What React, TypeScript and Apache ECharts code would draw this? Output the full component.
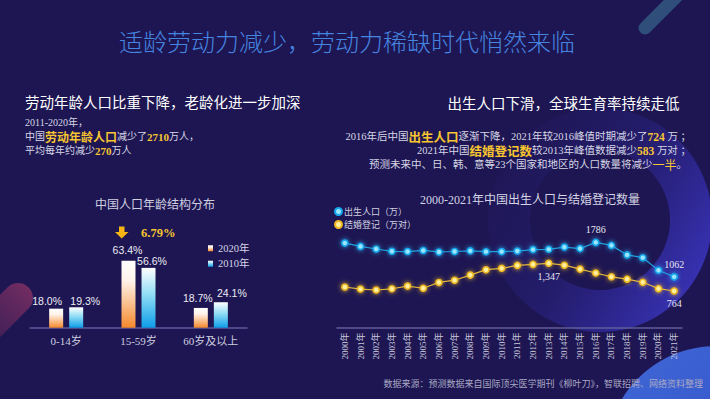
import React, { useEffect, useRef } from "react";
import * as echarts from "echarts";

const ageCategories = ["0-14岁", "15-59岁", "60岁及以上"];
const share2020 = [18.0, 63.4, 18.7];
const share2010 = [19.3, 56.6, 24.1];

const years = [
  "2000年", "2001年", "2002年", "2003年", "2004年", "2005年", "2006年", "2007年",
  "2008年", "2009年", "2010年", "2011年", "2012年", "2013年", "2014年", "2015年",
  "2016年", "2017年", "2018年", "2019年", "2020年", "2021年",
];
const births = [
  1771, 1702, 1647, 1599, 1593, 1617, 1585, 1595, 1608, 1591, 1592, 1604, 1635, 1640,
  1687, 1655, 1786, 1723, 1523, 1465, 1200, 1062,
];
const marriages = [
  848.5, 805, 786, 811.4, 867.2, 823.1, 945, 991.4, 1098.3, 1212.4, 1241, 1302.4, 1323.6,
  1346.9, 1306.7, 1224.7, 1142.8, 1063.1, 1013.9, 947.1, 814.3, 764.3,
];
const birthLabelIdx = [16, 21];
const marriageLabelIdx = [13, 21];

// label nudges (layout, not data)
const off2020 = [[-9, 3], [-1, 0], [-3, 0.5]];
const off2010 = [[9, 4.5], [3.5, 3.5], [11, 1.5]];

const SERIF = "'Liberation Serif', 'Noto Sans CJK SC', serif";
const SANS = "'Noto Sans CJK SC', 'Noto Sans', sans-serif";
const YEL = "#f7c531";

export default function App() {
  const ref = useRef<HTMLDivElement>(null);
  useEffect(() => {
    if (!ref.current) return;
    const chart = echarts.init(ref.current, undefined, { renderer: "svg" });
    const lg = (stops: [number, string][], x = 0, y = 0, x2 = 0, y2 = 1) =>
      new echarts.graphic.LinearGradient(x, y, x2, y2, stops.map(([offset, color]) => ({ offset, color })));

    const mkRich = (ns: number) => ({
      n: { fill: "#d6d6e6", color: "#d6d6e6", fontSize: ns, fontFamily: SERIF, verticalAlign: "middle" },
      h: { fill: YEL, color: YEL, fontSize: ns + 2, fontWeight: "bold", fontFamily: SANS, verticalAlign: "middle" },
      b: { fill: YEL, color: YEL, fontSize: ns + 1, fontWeight: "bold", fontFamily: SERIF, verticalAlign: "middle" },
      y: { fill: YEL, color: YEL, fontSize: ns + 1.5, fontFamily: SANS, verticalAlign: "middle" },
    });
    const rt = (text: string, x: number, y: number, align: string, ns = 10) => ({
      type: "text",
      x,
      y,
      z: 20,
      style: { text, rich: mkRich(ns), align, verticalAlign: "middle", fill: "#d6d6e6", fontSize: ns, fontFamily: SERIF },
    });
    const plain = (text: string, x: number, y: number, align: string, fontSize: number, fill: string, fontFamily = SANS, fontWeight: any = "normal") => ({
      type: "text",
      x,
      y,
      z: 20,
      style: { text, align, verticalAlign: "middle", fontSize, fill, fontFamily, fontWeight },
    });

    const barLabel = {
      show: true,
      position: "top",
      formatter: (p: any) => Number(p.value).toFixed(1) + "%",
      color: "#ececf4",
      fontSize: 10.5,
      fontFamily: "'Liberation Sans', Arial, sans-serif",
    };

    const option: any = {
      animation: false,
      backgroundColor: "#1e1652",
      graphic: [
        // background decorations
        {
          type: "ring",
          z: 0,
          shape: { cx: 600, cy: 220, r: 112, r0: 70 },
          style: {
            fill: lg([[0, "rgba(50,45,170,0)"], [0.45, "rgba(50,45,170,0.25)"], [1, "rgba(60,54,195,0.95)"]], 0, 0.2, 1, 0.8),
          },
        },
        {
          type: "circle",
          z: 0,
          shape: { cx: 716, cy: 456, r: 110 },
          style: { fill: lg([[0, "#4068d8"], [1, "#2d48bb"]], 0, 0, 1, 1) },
        },
        {
          type: "rect",
          z: 0,
          x: 18,
          y: 298,
          rotation: Math.PI / 4,
          shape: { x: -90, y: -15, width: 105, height: 30, r: 15 },
          style: { fill: lg([[0, "rgba(110,42,94,0)"], [1, "rgba(118,46,98,0.95)"]], 0, 0, 1, 0) },
        },
        {
          type: "rect",
          z: 0,
          x: 645,
          y: 28,
          rotation: Math.PI / 4,
          shape: { x: -6.5, y: -6.5, width: 90, height: 13, r: 6.5 },
          style: { fill: "#2f4e7a" },
        },
        // titles & texts
        plain("适龄劳动力减少，劳动力稀缺时代悄然来临", 347, 40, "center", 24, "#4585e0", SANS, 300),
        plain("劳动年龄人口比重下降，老龄化进一步加深", 25, 101.7, "left", 14.5, "#ffffff"),
        plain("出生人口下滑，全球生育率持续走低", 679.5, 102.7, "right", 14.5, "#ffffff"),
        rt("{n|2011-2020年，}", 25, 122.7, "left"),
        rt("{n|中国}{h|劳动年龄人口}{n|减少了}{b|2710}{n|万人，}", 25, 136.7, "left"),
        rt("{n|平均每年约减少}{b|270}{n|万人}", 25, 150.7, "left"),
        rt("{n|2016年后中国}{h|出生人口}{n|逐渐下降，2021年较2016峰值时期减少了}{b|724}{n| 万 ；}", 691, 136.7, "right", 10.5),
        rt("{n|2021年中国}{h|结婚登记数}{n|较2013年峰值数据减少}{b|583}{n| 万对 ；}", 691, 150.7, "right", 10.5),
        rt("{n|预测未来中、日、韩、意等23个国家和地区的人口数量将减少}{y|一半}{n|。}", 687, 164, "right", 10.5),
        plain("中国人口年龄结构分布", 155, 203, "center", 12, "#cfcfe0"),
        plain("2000-2021年中国出生人口与结婚登记数量", 530, 199.5, "center", 12, "#d4d4e4", SERIF),
        plain("数据来源：预测数据来自国际顶尖医学期刊《柳叶刀》，智联招聘、网络资料整理", 703, 383.5, "right", 9, "#a9a9c4", SERIF),
        {
          type: "polygon",
          z: 20,
          shape: {
            points: [[119, 226.5], [124.5, 226.5], [124.5, 232], [128.5, 232], [121.7, 238.5], [115, 232], [119, 232]],
          },
          style: { fill: "#f5b512" },
        },
        plain("6.79%", 141, 232.5, "left", 12.5, YEL, SERIF, "bold"),
      ],
      legend: [
        {
          data: ["2020年", "2010年"],
          orient: "vertical",
          left: 208,
          top: 243,
          icon: "rect",
          itemWidth: 5,
          itemHeight: 6,
          itemGap: 5,
          padding: 0,
          textStyle: { color: "#d5d5e5", fontSize: 10.5, fontFamily: SERIF },
        },
        {
          data: ["出生人口（万）", "结婚登记（万对）"],
          orient: "vertical",
          left: 334,
          top: 207,
          icon: "circle",
          itemWidth: 7,
          itemHeight: 7,
          itemGap: 4,
          padding: 0,
          textStyle: { color: "#cfcfe0", fontSize: 9, fontFamily: SERIF, padding: [0, 0, 0, -3] },
        },
      ],
      grid: [
        { left: 30, top: 222, width: 217, height: 105.7, containLabel: false, outerBoundsMode: "none" },
        { left: 337, top: 232.2, width: 345, height: 95.2, containLabel: false, outerBoundsMode: "none" },
      ],
      xAxis: [
        {
          type: "category",
          gridIndex: 0,
          data: ageCategories,
          axisTick: { show: false },
          axisLine: { lineStyle: { color: "#5c5a9c", width: 1.5 } },
          axisLabel: { color: "#cfcfe0", fontSize: 11, fontFamily: SERIF, margin: 8 },
        },
        {
          type: "category",
          gridIndex: 1,
          data: years,
          boundaryGap: true,
          axisTick: { show: false },
          axisLine: { lineStyle: { color: "#5f5d9a", width: 1.5 } },
          axisLabel: { color: "#c8c8dc", fontSize: 9, fontFamily: SERIF, rotate: 90, interval: 0, margin: 5 },
        },
      ],
      yAxis: [
        { type: "value", gridIndex: 0, min: 0, max: 100, show: false },
        { type: "value", gridIndex: 1, min: 0, max: 2000, show: false },
      ],
      series: [
        {
          type: "bar",
          name: "2020年",
          xAxisIndex: 0,
          yAxisIndex: 0,
          barWidth: 14,
          barGap: "43%",
          data: share2020.map((v, i) => ({ value: v, label: { offset: off2020[i] } })),
          itemStyle: { color: lg([[0, "#ffffff"], [0.3, "#fff3ea"], [1, "#f5892c"]]) },
          label: barLabel,
        },
        {
          type: "bar",
          name: "2010年",
          xAxisIndex: 0,
          yAxisIndex: 0,
          barWidth: 14,
          barGap: "43%",
          data: share2010.map((v, i) => ({ value: v, label: { offset: off2010[i] } })),
          itemStyle: { color: lg([[0, "#ffffff"], [0.45, "#8fdcf5"], [1, "#0d9de9"]]) },
          label: barLabel,
        },
        {
          type: "line",
          name: "出生人口（万）",
          xAxisIndex: 1,
          yAxisIndex: 1,
          symbol: "circle",
          symbolSize: 6,
          showAllSymbol: true,
          data: births.map((v, i) => (birthLabelIdx.includes(i) ? { value: v, label: { show: true } } : v)),
          lineStyle: { color: "#1f9ddb", width: 1.2 },
          itemStyle: {
            color: "#9ae6ff",
            borderColor: "#16a8ee",
            borderWidth: 1.5,
            shadowBlur: 5,
            shadowColor: "rgba(40,190,255,0.9)",
          },
          label: {
            show: false,
            position: "top",
            distance: 4,
            color: "#e6e6f0",
            fontSize: 10,
            fontFamily: SERIF,
          },
        },
        {
          type: "line",
          name: "结婚登记（万对）",
          xAxisIndex: 1,
          yAxisIndex: 1,
          symbol: "circle",
          symbolSize: 6,
          showAllSymbol: true,
          data: marriages.map((v, i) => (marriageLabelIdx.includes(i) ? { value: v, label: { show: true } } : v)),
          lineStyle: { color: "#e0b43a", width: 1.2 },
          itemStyle: {
            color: "#fff0a0",
            borderColor: "#f0b822",
            borderWidth: 1.5,
            shadowBlur: 5,
            shadowColor: "rgba(255,200,40,0.9)",
          },
          label: {
            show: false,
            position: "bottom",
            distance: 4,
            color: "#e6e6f0",
            fontSize: 10,
            fontFamily: SERIF,
            formatter: (p: any) => Math.round(Number(p.value)).toLocaleString("en-US"),
          },
        },
      ],
    };
    chart.setOption(option);
    return () => chart.dispose();
  }, []);
  return <div ref={ref} style={{ position: "fixed", left: 0, top: 0, width: 710, height: 399 }} />;
}
